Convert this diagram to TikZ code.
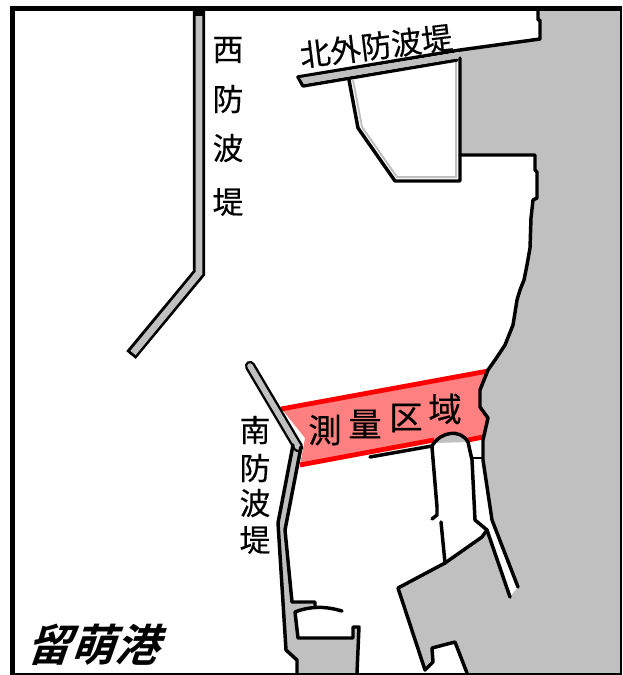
\documentclass[tikz,border=0pt]{standalone}
\usepackage{fontspec}
\newfontfamily\jp[FakeBold=0.35]{Noto Sans CJK JP}
\newfontfamily\jpb{Noto Sans CJK JP Bold}
\definecolor{land}{HTML}{C0C0C0}
\definecolor{survey}{HTML}{FF8080}
\tikzset{
  x=0.75pt,y=-0.75pt,
  edge/.style={draw=black,line width=2.6pt,line join=round,line cap=round},
  thinedge/.style={draw=black,line width=1.9pt,line join=round,line cap=round},
  redline/.style={draw=red,line width=3.6pt,line cap=butt},
  wallout/.style={draw=black,line width=9.2pt,line join=miter,line cap=butt},
  wallin/.style={draw=land,line width=5pt,line join=miter,line cap=butt},
  label/.style={font=\jp\fontsize{23}{23}\selectfont,inner sep=0pt,text=black},
  area/.style={font=\jp\fontsize{25}{25}\selectfont,inner sep=0pt,text=black},
}
\begin{document}
\begin{tikzpicture}
\useasboundingbox (0,0) rectangle (622,675);
\fill[white] (0,0) rectangle (622,675);
% land
\fill[land] (538,11) -- (620,11) -- (620,673) -- (467,673) -- (455,642) -- (432,648) -- (433,662) -- (425,670) -- (425,673)
  -- (398,588) -- (445,563) -- (482,537) -- (487,530) -- (510,597) -- (518,587) -- (492,520) -- (483,460) -- (483,440)
  -- (488,418) -- (480,407) -- (480,390) -- (488,370) -- (495,360) -- (505,345) -- (513,325) -- (517,300) -- (520,290) -- (524,280) -- (527,265)
  -- (530,248) -- (531,218) -- (533,200) -- (537,198) -- (537,172) -- (535,170) -- (535,155) -- (460,155) -- (460,50) -- (540,39) -- (540,20) -- (538,20) -- cycle;
\fill[land] (293,445) -- (301,447) -- (285,530) -- (292,602) -- (315,604) -- (295,612) -- (298,638) -- (353,638) -- (353,627) -- (359,627) -- (357,673) -- (297,673) -- (297,660) -- (286,650) -- (278,523) -- cycle;
% survey area
\fill[survey] (281,408) -- (488,371) -- (480,390) -- (480,407) -- (488,418) -- (484,437) -- (468,441) -- (460,433) -- (447,435) -- (433,441) -- (300,465) -- (305,438) -- cycle;
\draw[redline] (281,409) -- (488,371);
\draw[redline] (300,465) -- (434,440);
\draw[redline] (468,440) -- (483,437);
% light inner shadow of the north enclosure
\draw[land,line width=1.5pt] (456,62) -- (456,177) -- (397,177) -- (362,127) -- (353,80);
% coast
\draw[edge] (538,11) -- (538,20) -- (540,20) -- (540,39) -- (460,50) -- (298,77) -- (303,86) -- (457,60);
\fill[land] (300,78) -- (460,52) -- (460,58) -- (304,84) -- cycle;
\draw[edge] (460,58) -- (460,181) -- (395,181) -- (358,128) -- (349,80);
\draw[edge] (460,155) -- (535,155) -- (535,170) -- (537,172) -- (537,198) -- (533,200) -- (531,218) -- (530,248) -- (527,265) -- (524,280) -- (520,290) -- (517,300) -- (513,325) -- (505,345) -- (495,360) -- (488,370) -- (480,390) -- (480,407) -- (488,418) -- (483,440) -- (483,460) -- (492,520) -- (518,587);
% west breakwater
\draw[wallout] (199,11) -- (199,273) -- (131,355);
\draw[wallin] (199,16) -- (199,273) -- (133,353);
% south breakwater
\draw[wallout,line width=7.8pt,line cap=round] (250,366) -- (298,447);
\draw[wallin,line width=4.2pt,line cap=round] (250,366) -- (298,447);
\draw[edge] (301,447) -- (285,530) -- (292,602) -- (315,602) -- (315,606);
\draw[edge] (293,445) -- (278,523) -- (286,650) -- (297,660) -- (297,673);
\draw[edge] (342,611) .. controls (325,606) and (310,606) .. (295,612) -- (298,638) -- (353,638) -- (353,627) -- (359,627) -- (357,673);
% inner harbour
\fill[land] (435,443) .. controls (440,434) and (460,428) .. (468,442) -- cycle;
\draw[edge] (370,457) -- (432,446);
\draw[edge] (432,446) .. controls (440,432) and (460,428) .. (468,442) -- (472,460) -- (475,520) -- (487,530) -- (510,597);
\draw[thinedge] (472,458) -- (483,458);
\draw[edge] (432,447) -- (437,507) -- (437,515) -- (432,519);
\draw[edge] (441,522) -- (445,563);
\draw[edge] (487,530) -- (482,537) -- (445,563) -- (398,588) -- (425,670) -- (433,662) -- (432,648) -- (455,642) -- (467,673);
% frame
\fill[black] (10,6) rectangle (622,11);
\fill[black] (10,6) rectangle (15,675);
\fill[black] (620,6) rectangle (622,675);
\fill[black] (10,673) rectangle (622,675);
% labels
\node[label] (w1) at (228,50) {西};
\node[label] (w2) at (228,99) {防};
\node[label] (w3) at (228,148) {波};
\node[label] (w4) at (228,202) {堤};
\node[label] (s1) at (255,430) {南};
\node[label] (s2) at (255,468) {防};
\node[label] (s3) at (255,503) {波};
\node[label] (s4) at (255,540) {堤};
\node[label,rotate=7] (north) at (376,46) {北外防波堤};
\node[area] (a1) at (325,430) {測};
\node[area] (a2) at (365,424) {量};
\node[area] (a3) at (406,418) {区};
\node[area] (a4) at (445,409) {域};
\node[font=\jpb\fontsize{33}{33}\selectfont,inner sep=0pt,xslant=0.35,transform shape] (port) at (98,645) {留萌港};
\end{tikzpicture}
\end{document}
